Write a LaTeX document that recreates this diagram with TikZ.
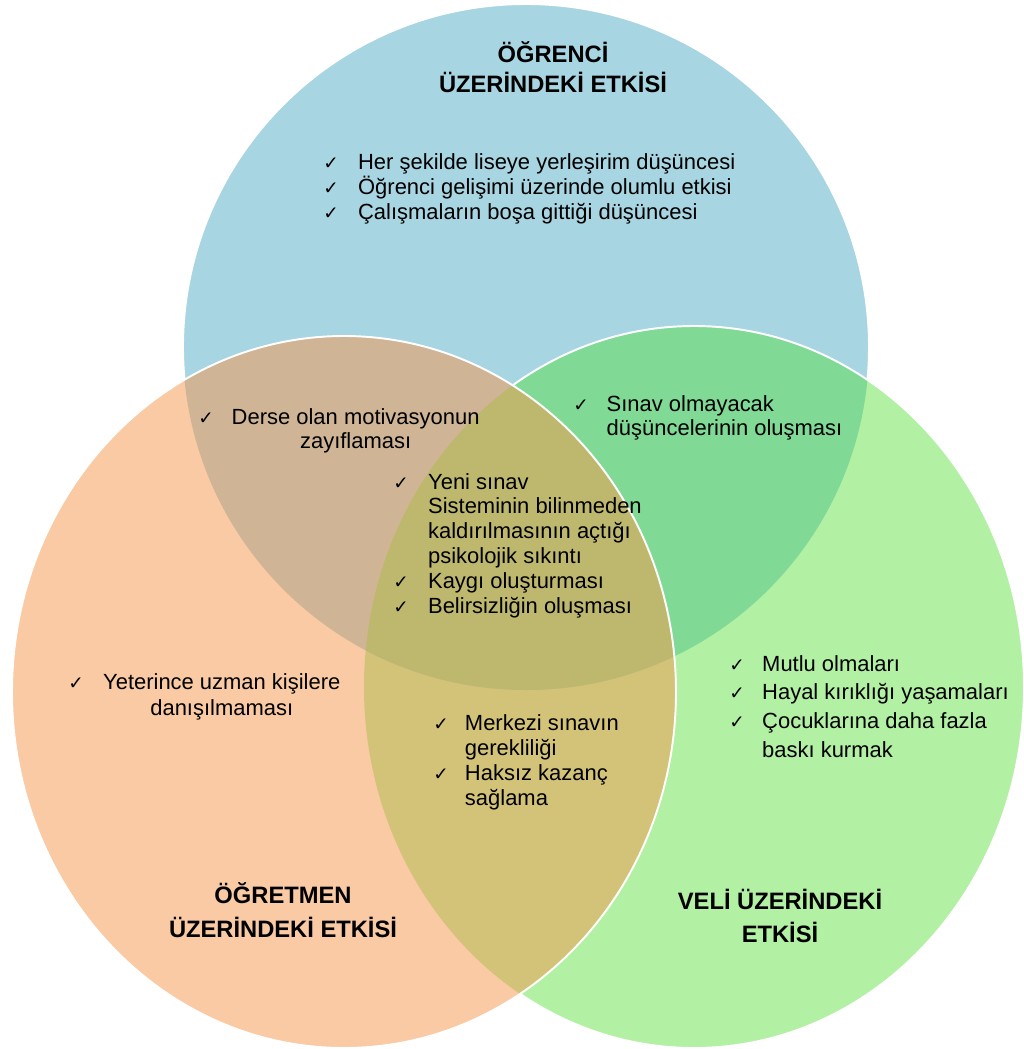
\documentclass[tikz,border=0pt]{standalone}
\usepackage{fontspec}
\setmainfont{Liberation Sans}
\newfontfamily\chkfont{DejaVu Sans}

\definecolor{ogrenciC}{HTML}{A8D5E2}
\definecolor{ogretmenC}{HTML}{F9CAA3}
\definecolor{veliC}{HTML}{B2F0A4}
\definecolor{ogrOgtC}{HTML}{CFB595}
\definecolor{ogrVeliC}{HTML}{80DA96}
\definecolor{ogtVeliC}{HTML}{D3C378}
\definecolor{ortakC}{HTML}{BEB86F}

\newcommand{\ck}{{\chkfont\fontsize{10.5}{10.5}\selectfont ✓}}
\def\ogrenci{(526,347) ellipse [x radius=343, y radius=343]}
\def\ogretmen{(344,692) ellipse [x radius=332, y radius=356]}
\def\veli{(694,687) ellipse [x radius=330, y radius=361]}

\begin{document}
\begin{tikzpicture}[x=0.02cm, y=-0.02cm,
                    title/.style={font=\bfseries\fontsize{13.5}{17}\selectfont, align=center, inner sep=0pt},
                    item/.style={font=\fontsize{12.5}{14.2}\selectfont, inner sep=0pt, anchor=base west},
                    rim/.style={white, line width=1.1pt}]
      \useasboundingbox (0,0) rectangle (1024,1049);

      % ogrenci
      \fill[ogrenciC] \ogrenci;
      \draw[rim] \ogrenci;

      % veli
      \fill[veliC] \veli;
      \begin{scope}
          \clip \ogrenci;
          \fill[ogrVeliC] \veli;
      \end{scope}
      \draw[rim] \veli;

      % ogretmen
      \fill[ogretmenC] \ogretmen;
      \begin{scope}
          \clip \ogretmen;
          \fill[ogtVeliC] \veli;
          \fill[ogrOgtC] \ogrenci;
          \clip \ogrenci;
          \fill[ortakC] \veli;
      \end{scope}
      \draw[rim] \ogretmen;

      \node[title] (t1) at (553,67) {ÖĞRENCİ\\ÜZERİNDEKİ ETKİSİ};
      \node[title] (t2) at (283,910) {ÖĞRETMEN\\[2pt]ÜZERİNDEKİ ETKİSİ};
      \node[title] (t3) at (780,916) {VELİ ÜZERİNDEKİ\\[2pt]ETKİSİ};

      \node[item] (a1) at (323,169) {\begin{tabular}[t]{@{}p{19.8pt}@{}l@{}}
          \ck & Her şekilde liseye yerleşirim düşüncesi\\
          \ck & Öğrenci gelişimi üzerinde olumlu etkisi\\
          \ck & Çalışmaların boşa gittiği düşüncesi
      \end{tabular}};

      \node[item] (a2) at (198,424) {\begin{tabular}[t]{@{}p{19pt}@{}c@{}}
          \ck & Derse olan motivasyonun\\
              & zayıflaması
      \end{tabular}};

      \node[item] (a3) at (573,411) {\begin{tabular}[t]{@{}p{19pt}@{}l@{}}
          \ck & Sınav olmayacak\\
              & düşüncelerinin oluşması
      \end{tabular}};

      \node[item] (a4) at (393,489) {\begin{tabular}[t]{@{}p{19.8pt}@{}l@{}}
          \ck & Yeni sınav\\
              & Sisteminin bilinmeden\\
              & kaldırılmasının açtığı\\
              & psikolojik sıkıntı\\
          \ck & Kaygı oluşturması\\
          \ck & Belirsizliğin oluşması
      \end{tabular}};

      \node[item] (a5) at (68,689) {\renewcommand{\arraystretch}{1.08}\begin{tabular}[t]{@{}p{19.8pt}@{}c@{}}
          \ck & Yeterince uzman kişilere\\
              & danışılmaması
      \end{tabular}};

      \node[item] (a6) at (433,730) {\renewcommand{\arraystretch}{1.01}\begin{tabular}[t]{@{}p{18pt}@{}l@{}}
          \ck & Merkezi sınavın\\
              & gerekliliği\\
          \ck & Haksız kazanç\\
              & sağlama
      \end{tabular}};

      \node[item] (a7) at (729,671) {\renewcommand{\arraystretch}{1.15}\begin{tabular}[t]{@{}p{18.7pt}@{}l@{}}
          \ck & Mutlu olmaları\\
          \ck & Hayal kırıklığı yaşamaları\\
          \ck & Çocuklarına daha fazla\\
              & baskı kurmak
      \end{tabular}};
\end{tikzpicture}
\end{document}
